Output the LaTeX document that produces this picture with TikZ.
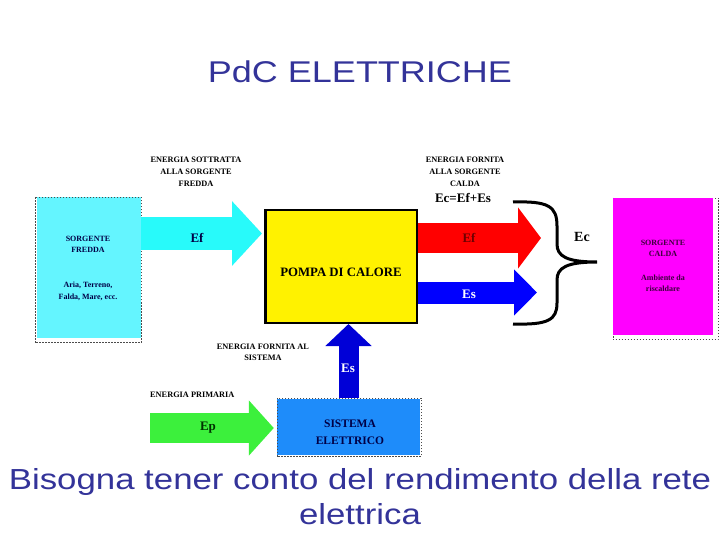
\documentclass[tikz,border=0pt]{standalone}
\usepackage{fontspec}
\setmainfont{Liberation Serif}
\newfontfamily\slidefont[FakeStretch=1.2]{Liberation Sans}
\usetikzlibrary{arrows.meta}

\definecolor{titleblue}{RGB}{51,51,153}
\definecolor{coldfill}{RGB}{100,245,255}
\definecolor{cyanarrow}{RGB}{40,250,250}
\definecolor{hotfill}{RGB}{255,0,255}
\definecolor{sysfill}{RGB}{30,140,250}
\definecolor{greenarrow}{RGB}{60,240,60}
\definecolor{upblue}{RGB}{0,0,215}
\definecolor{navytext}{RGB}{0,0,70}
\definecolor{redtext}{RGB}{110,0,0}
\definecolor{greentext}{RGB}{0,50,0}
\definecolor{purpletext}{RGB}{60,0,60}

\tikzset{
    tag/.style={font=\fontsize{8.3}{12}\selectfont\bfseries, align=center, inner sep=0pt},
    flow/.style={font=\fontsize{13}{15}\selectfont\bfseries, inner sep=0pt},
    fatarrow/.style n args={4}{draw=#1, line width=#2, -{Triangle[width=#3, length=#4]}},
    srcborder/.style={draw=black!70, line width=0.6pt, dash pattern=on 1.5pt off 1.5pt},
    boxfill/.style={minimum width=#1, inner sep=0pt},
}

\begin{document}
\begin{tikzpicture}[x=1pt,y=-1pt]
    \useasboundingbox (0,0) rectangle (720,540);

    \node[font=\slidefont\fontsize{30}{36}\selectfont, text=titleblue] (title) at (360,72) {PdC ELETTRICHE};

    % sorgente fredda
    \node[boxfill=104pt, fill=coldfill, minimum height=140pt] (cold) at (89,267.5) {};
    \draw[srcborder] ([xshift=-2pt]cold.north west) rectangle ([yshift=-5pt]cold.south east);
    \node[tag, font=\fontsize{8}{11.5}\selectfont\bfseries, text=navytext] (coldname) at (88,244.5) {SORGENTE\\FREDDA};
    \node[tag, font=\fontsize{8}{11.5}\selectfont\bfseries, text=navytext] (coldex) at (88,291.5) {Aria, Terreno,\\Falda, Mare, ecc.};

    % pompa di calore
    \node[boxfill=151.5pt, draw=black, line width=2.5pt, fill=yellow, minimum height=112.5pt] (hp) at (341,266.5) {};
    \node[font=\fontsize{12.8}{15}\selectfont\bfseries] (hplabel) at (341,272) {POMPA DI CALORE};

    % sorgente calda
    \draw[srcborder] (613,198) rectangle (718,339.5);
    \node[boxfill=100pt, fill=hotfill, minimum height=137pt] (hot) at (663,266.5) {};
    \node[tag, font=\fontsize{8}{11.5}\selectfont\bfseries, text=purpletext] (hotname) at (663,248.5) {SORGENTE\\CALDA};
    \node[tag, font=\fontsize{8}{11.5}\selectfont\bfseries, text=purpletext] (hotex) at (663,283.5) {Ambiente da\\riscaldare};

    % sistema elettrico
    \node[boxfill=143pt, fill=sysfill, minimum height=56pt] (sys) at (348.5,427) {};
    \draw[srcborder] ([yshift=1pt]sys.north west) rectangle ([xshift=1pt,yshift=-1pt]sys.south east);
    \node[font=\fontsize{11.5}{17}\selectfont\bfseries, text=navytext, align=center] (syslabel) at (350,432.5) {SISTEMA\\ELETTRICO};

    \coordinate (redtip) at (541,238);
    \coordinate (bluetip) at (537,292.5);
    \coordinate (primary) at (150,428);

    % flussi
    \draw[fatarrow={cyanarrow}{33pt}{63pt}{30pt}, shorten >=2pt] (cold.east |- 0,233.5) -- (hp.west |- 0,233.5);
    \draw[fatarrow={red}{29pt}{60pt}{23pt}] (hp.east |- redtip) -- (redtip);
    \draw[fatarrow={blue}{22pt}{45pt}{23pt}] (hp.east |- bluetip) -- (bluetip);
    \draw[fatarrow={upblue}{20pt}{45pt}{22pt}] ([yshift=1pt]sys.north) -- (sys.north |- hp.south);
    \draw[fatarrow={greenarrow}{30pt}{54pt}{25pt}, shorten >=3pt] (primary) -- (sys.west |- primary);

    \node[flow, text=navytext] (efcold) at (197,238) {Ef};
    \node[flow, text=redtext] (efhot) at (469,238) {Ef};
    \node[flow, text=white] (eshot) at (469,294) {Es};
    \node[flow, text=white] (esup) at (348,368) {Es};
    \node[flow, text=greentext] (ep) at (208,428) {Ep};

    % graffa
    \draw[line width=3pt] (513,202) .. controls (548,201) and (557,206) .. (557,226)
        -- (557,244) .. controls (557,256) and (566,262) .. (597,262)
        .. controls (566,262) and (557,268) .. (557,280)
        -- (557,303) .. controls (557,320) and (548,325) .. (513,324);
    \node[font=\fontsize{14}{16}\selectfont\bfseries] (ec) at (582,237) {Ec};

    % etichette
    \node[tag] (coldtop) at (196,172) {ENERGIA SOTTRATTA\\ALLA SORGENTE\\FREDDA};
    \node[tag] (hottop) at (465,172) {ENERGIA FORNITA\\ALLA SORGENTE\\CALDA};
    \node[font=\fontsize{13}{15}\selectfont\bfseries] (balance) at (463,198) {Ec=Ef+Es};
    \node[tag, font=\fontsize{8.3}{11}\selectfont\bfseries] (systop) at (263,352.5) {ENERGIA FORNITA AL\\SISTEMA};
    \node[tag, anchor=west] (primlabel) at (150,395) {ENERGIA PRIMARIA};

    \node[font=\slidefont\fontsize{29}{35}\selectfont, text=titleblue, align=center] (note) at (360,497) {Bisogna tener conto del rendimento della rete\\elettrica};
\end{tikzpicture}
\end{document}
